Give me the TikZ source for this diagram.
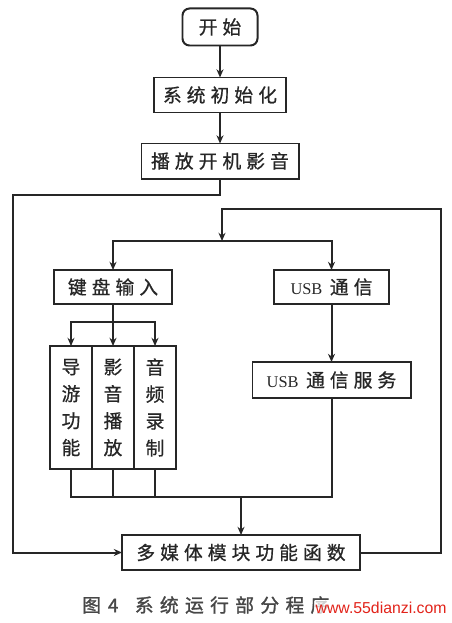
\documentclass[tikz,border=0pt]{standalone}
\usepackage{fontspec}
\setmainfont{Liberation Serif}
\newfontfamily\cjk[LetterSpace=27,FakeBold=0.8]{Noto Sans CJK SC}
\newfontfamily\cjkv[FakeBold=0.8]{Noto Sans CJK SC}
\newfontfamily\cjkcap[LetterSpace=34,FakeBold=1.4]{Noto Sans CJK SC}
\newfontfamily\wmfont{Liberation Sans}
\usetikzlibrary{positioning,arrows.meta}
\definecolor{ink}{HTML}{262626}
\definecolor{mark}{HTML}{E2231A}

\begin{document}
\begin{tikzpicture}[
x=0.03cm, y=-0.03cm,
font=\fontsize{16pt}{18pt}\selectfont\cjk,
proc/.style={draw=ink, line width=1.7pt, text=ink, minimum height=1.05cm, inner sep=0pt, outer sep=0pt},
term/.style={proc, rounded corners=6pt},
vbox/.style={proc, minimum width=1.26cm, minimum height=3.69cm, align=center, font=\fontsize{16pt}{23pt}\selectfont\cjkv},
arr/.style={draw=ink, line width=1.7pt, -{Stealth[length=7pt,width=6pt]}},
wire/.style={draw=ink, line width=1.7pt}
]
\useasboundingbox (0,0) rectangle (451,623);

\node[term, minimum width=2.25cm, minimum height=1.11cm] (start) at (220,27) {开始};
\node[proc, minimum width=3.96cm, below=0.96cm of start] (init) {系统初始化};
\node[proc, minimum width=4.71cm, below=0.93cm of init] (boot) {播放开机影音};

\node[proc, minimum width=3.54cm, minimum height=1.02cm] (keyin) at (113,287) {键盘输入};
\node[proc, minimum width=3.45cm, minimum height=1.02cm] (usb) at (331.5,287) {{\rmfamily\fontsize{14pt}{16pt}\selectfont USB}\hspace{0.4em}通信};
\node[proc, minimum width=4.74cm, minimum height=1.08cm, below=1.74cm of usb] (usbsrv) {{\rmfamily\fontsize{14pt}{16pt}\selectfont USB}\hspace{0.4em}通信服务};

\node[vbox] (nav) at (71,407.5) {导\\游\\功\\能};
\node[vbox, right=0pt of nav] (play) {影\\音\\播\\放};
\node[vbox, right=0pt of play] (rec) {音\\频\\录\\制};

\node[proc, minimum width=7.14cm] (multi) at (241,552.5) {多媒体模块功能函数};

\coordinate (lft) at (13,195);
\coordinate (rgt) at (441,209);
\coordinate (junc) at (222,241);
\coordinate (ksplit) at (113,322);
\coordinate (merge) at (241,497);

\draw[arr] (start) -- (init);
\draw[arr] (init) -- (boot);
\draw[arr] (boot.south) |- (lft) |- (multi.west);
\draw[arr] (multi.east) -| (rgt) -| (junc);
\draw[arr] (junc) -| (keyin.north);
\draw[arr] (junc) -| (usb.north);
\draw[arr] (keyin) -- (play);
\draw[arr] (ksplit) -| (nav.north);
\draw[arr] (ksplit) -| (rec.north);
\draw[arr] (usb) -- (usbsrv);
\draw[wire] (nav.south) |- (merge) (play.south) |- (merge)
  (rec.south) |- (merge) (usbsrv.south) |- (merge);
\draw[arr] (merge) -- (multi);

% caption and site mark
\node[anchor=west, inner sep=0pt, text=ink!85, font=\fontsize{16pt}{18pt}\selectfont\cjkcap] (cap) at (82,605) {图\hspace{6pt}4\hspace{14pt}系统运行部分程序};
\node[anchor=east, inner sep=1pt, fill=white, fill opacity=0.75, text opacity=1, text=mark, font=\fontsize{13.5pt}{16pt}\selectfont\wmfont] (wmark) at (448,608) {www.55dianzi.com};
\end{tikzpicture}
\end{document}
